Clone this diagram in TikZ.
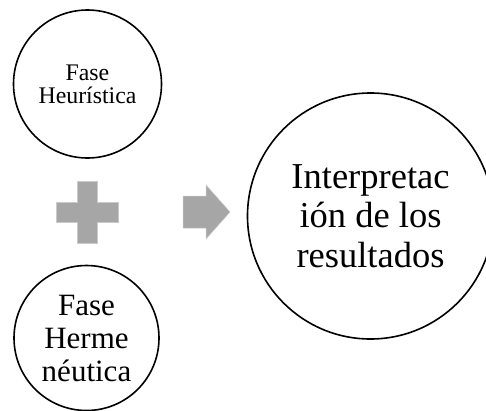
\documentclass[tikz,border=0pt]{standalone}
\usepackage{fontspec}
\setmainfont{Liberation Serif}
\definecolor{shapegray}{RGB}{166,166,166}
\begin{document}
\begin{tikzpicture}[x=1pt,y=-1pt,
  circ/.style={circle, draw=black, line width=1.6pt, inner sep=0pt, align=center, text=black},
  grayshape/.style={fill=shapegray, draw=shapegray!60, line width=0.5pt}]
\useasboundingbox (0,0) rectangle (486,410);
\clip (0,0) rectangle (486,410);
\node[circ, minimum size=148pt, font=\fontsize{23.8}{23}\selectfont] (heur) at (87.5,84) {Fase\\Heurística};
\node[circ, minimum size=145pt, font=\fontsize{31}{33}\selectfont] (herm) at (86.5,338) {Fase\\Herme\\néutica};
\node[circ, minimum size=246pt, font=\fontsize{36.5}{39.5}\selectfont] (interp) at (370.5,216) {Interpretac\\ión de los\\resultados};
% plus sign
\path[grayshape] (77,181) -- (97,181) -- (97,202) -- (118,202) -- (118,222) -- (97,222) -- (97,243) -- (77,243) -- (77,222) -- (56,222) -- (56,202) -- (77,202) -- cycle;
% arrow
\path[grayshape] (183,196) -- (206,196) -- (206,185) -- (230,212) -- (206,239) -- (206,228) -- (183,228) -- cycle;
\end{tikzpicture}
\end{document}
